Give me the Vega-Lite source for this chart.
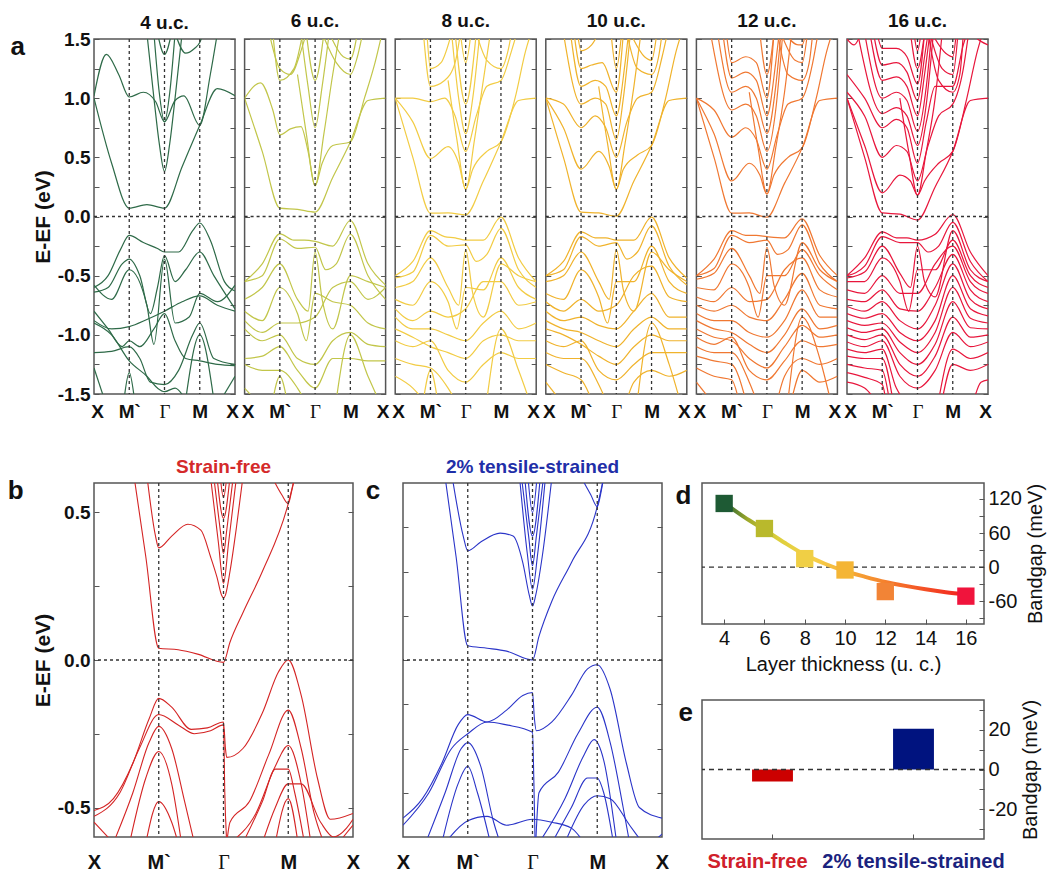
{
"$schema":"https://vega.github.io/schema/vega-lite/v6.json",
"padding":{"left":7,"top":11,"right":2,"bottom":0},
"background":"white",
"config":{"view":{"stroke":"#555","strokeWidth":1.5},"font":"Liberation Sans","axis":{"grid":false,"domain":false,"labelOverlap":false,"tickColor":"#555","labelColor":"#111","titleColor":"#111","labelFont":"Liberation Sans","titleFont":"Liberation Sans"},"title":{"font":"Liberation Sans","fontWeight":"bold","color":"#111"}},
"datasets":{
"a4":[
{"b":1,"k":0,"e":1.0},{"b":1,"k":0.5,"e":0.45},{"b":1,"k":1,"e":0.07},{"b":1,"k":1.5,"e":0.1},{"b":1,"k":2,"e":0.07},{"b":1,"k":2.5,"e":0.42},{"b":1,"k":3,"e":0.77},{"b":1,"k":3.5,"e":1.08},{"b":1,"k":4,"e":1.02},
{"b":2,"k":0,"e":1.02},{"b":2,"k":0.35,"e":1.37},{"b":2,"k":0.7,"e":1.2},{"b":2,"k":1,"e":1.01},{"b":2,"k":1.4,"e":1.05},{"b":2,"k":1.75,"e":0.97},{"b":2,"k":2,"e":0.8},{"b":2,"k":2.3,"e":0.98},{"b":2,"k":2.55,"e":1.02},{"b":2,"k":3,"e":0.77},{"b":2,"k":3.3,"e":1.2},{"b":2,"k":3.5,"e":1.55},
{"b":3,"k":1.5,"e":1.55},{"b":3,"k":1.7,"e":1.0},{"b":3,"k":1.85,"e":0.62},{"b":3,"k":2,"e":0.38},{"b":3,"k":2.15,"e":0.62},{"b":3,"k":2.3,"e":1.0},{"b":3,"k":2.5,"e":1.55},
{"b":4,"k":1.7,"e":1.55},{"b":4,"k":1.85,"e":1.05},{"b":4,"k":2,"e":0.8},{"b":4,"k":2.15,"e":1.05},{"b":4,"k":2.3,"e":1.55},
{"b":5,"k":1.8,"e":1.55},{"b":5,"k":2,"e":1.37},{"b":5,"k":2.2,"e":1.55},
{"b":6,"k":2.3,"e":1.55},{"b":6,"k":2.6,"e":1.38},{"b":6,"k":2.85,"e":1.42},{"b":6,"k":3,"e":1.47},{"b":6,"k":3.1,"e":1.55},
{"b":8,"k":0,"e":-0.6},{"b":8,"k":0.4,"e":-0.5},{"b":8,"k":0.75,"e":-0.28},{"b":8,"k":1,"e":-0.16},{"b":8,"k":1.4,"e":-0.22},{"b":8,"k":1.8,"e":-0.27},{"b":8,"k":2,"e":-0.3},{"b":8,"k":2.4,"e":-0.3},{"b":8,"k":2.8,"e":-0.12},{"b":8,"k":3,"e":-0.055},{"b":8,"k":3.3,"e":-0.2},{"b":8,"k":3.7,"e":-0.55},{"b":8,"k":4,"e":-0.63},
{"b":9,"k":0,"e":-0.64},{"b":9,"k":0.4,"e":-0.6},{"b":9,"k":0.8,"e":-0.4},{"b":9,"k":1,"e":-0.36},{"b":9,"k":1.3,"e":-0.5},{"b":9,"k":1.6,"e":-0.82},{"b":9,"k":1.8,"e":-0.6},{"b":9,"k":2,"e":-0.33},{"b":9,"k":2.3,"e":-0.55},{"b":9,"k":2.6,"e":-0.45},{"b":9,"k":3,"e":-0.3},{"b":9,"k":3.4,"e":-0.5},{"b":9,"k":4,"e":-0.78},
{"b":10,"k":0,"e":-0.58},{"b":10,"k":0.5,"e":-0.7},{"b":10,"k":1,"e":-0.45},{"b":10,"k":1.5,"e":-0.75},{"b":10,"k":1.7,"e":-1.08},{"b":10,"k":2,"e":-0.36},{"b":10,"k":2.3,"e":-0.9},{"b":10,"k":2.7,"e":-0.85},{"b":10,"k":3,"e":-0.65},{"b":10,"k":3.5,"e":-0.72},{"b":10,"k":4,"e":-0.58},
{"b":11,"k":0,"e":-0.88},{"b":11,"k":0.5,"e":-0.95},{"b":11,"k":1,"e":-0.93},{"b":11,"k":1.5,"e":-0.87},{"b":11,"k":2,"e":-0.8},{"b":11,"k":2.5,"e":-0.72},{"b":11,"k":3,"e":-0.67},{"b":11,"k":3.5,"e":-0.75},{"b":11,"k":4,"e":-0.8},
{"b":12,"k":0,"e":-0.8},{"b":12,"k":0.4,"e":-0.95},{"b":12,"k":0.8,"e":-1.1},{"b":12,"k":1,"e":-1.05},{"b":12,"k":1.3,"e":-1.1},{"b":12,"k":1.7,"e":-0.95},{"b":12,"k":2,"e":-0.82},{"b":12,"k":2.3,"e":-1.05},{"b":12,"k":2.6,"e":-1.2},{"b":12,"k":3,"e":-1.22},{"b":12,"k":3.5,"e":-1.25},{"b":12,"k":4,"e":-1.26},
{"b":13,"k":0,"e":-1.15},{"b":13,"k":0.5,"e":-1.14},{"b":13,"k":1,"e":-1.1},{"b":13,"k":1.3,"e":-1.2},{"b":13,"k":1.6,"e":-1.4},{"b":13,"k":2,"e":-1.42},{"b":13,"k":2.4,"e":-1.3},{"b":13,"k":2.8,"e":-1.0},{"b":13,"k":3,"e":-0.9},{"b":13,"k":3.4,"e":-1.2},{"b":13,"k":4,"e":-1.25},
{"b":14,"k":0,"e":-1.28},{"b":14,"k":0.3,"e":-1.55},
{"b":15,"k":0.85,"e":-1.55},{"b":15,"k":1,"e":-1.32},{"b":15,"k":1.15,"e":-1.55},
{"b":16,"k":0,"e":-0.9},{"b":16,"k":0.5,"e":-1.0},{"b":16,"k":1,"e":-1.22},{"b":16,"k":1.5,"e":-1.35},{"b":16,"k":1.8,"e":-1.45},{"b":16,"k":2,"e":-1.48},{"b":16,"k":2.3,"e":-1.45},{"b":16,"k":2.6,"e":-1.55},
{"b":17,"k":2.6,"e":-1.55},{"b":17,"k":3,"e":-1.0},{"b":17,"k":3.4,"e":-1.55},
{"b":18,"k":3.6,"e":-1.55},{"b":18,"k":4,"e":-1.35}
],
"a6":[
{"b":1,"k":0,"e":1.0},{"b":1,"k":0.5,"e":0.55},{"b":1,"k":1,"e":0.07},{"b":1,"k":1.5,"e":0.06},{"b":1,"k":2,"e":0.037},{"b":1,"k":2.5,"e":0.33},{"b":1,"k":3,"e":0.63},{"b":1,"k":3.5,"e":0.98},{"b":1,"k":4,"e":1.0},
{"b":2,"k":0,"e":1.0},{"b":2,"k":0.45,"e":1.13},{"b":2,"k":0.8,"e":0.9},{"b":2,"k":1,"e":0.69},{"b":2,"k":1.3,"e":0.74},{"b":2,"k":1.6,"e":0.76},{"b":2,"k":1.8,"e":0.55},{"b":2,"k":2,"e":0.26},{"b":2,"k":2.2,"e":0.45},{"b":2,"k":2.5,"e":0.6},{"b":2,"k":3,"e":0.63},{"b":2,"k":3.4,"e":1.0},{"b":2,"k":3.7,"e":1.3},{"b":2,"k":3.9,"e":1.55},
{"b":3,"k":1.5,"e":1.2},{"b":3,"k":1.75,"e":0.7},{"b":3,"k":2,"e":0.26},{"b":3,"k":2.25,"e":0.7},{"b":3,"k":2.5,"e":1.2},{"b":3,"k":2.7,"e":1.55},
{"b":4,"k":1.6,"e":1.55},{"b":4,"k":1.8,"e":1.1},{"b":4,"k":2,"e":0.75},{"b":4,"k":2.2,"e":1.1},{"b":4,"k":2.4,"e":1.55},
{"b":5,"k":1.75,"e":1.55},{"b":5,"k":2,"e":1.15},{"b":5,"k":2.25,"e":1.55},
{"b":6,"k":0.7,"e":1.55},{"b":6,"k":1,"e":1.25},{"b":6,"k":1.3,"e":1.2},{"b":6,"k":1.6,"e":1.4},{"b":6,"k":1.75,"e":1.55},
{"b":7,"k":0.8,"e":1.55},{"b":7,"k":1,"e":1.15},{"b":7,"k":1.4,"e":1.25},{"b":7,"k":1.65,"e":1.55},
{"b":8,"k":2.2,"e":1.55},{"b":8,"k":2.6,"e":1.3},{"b":8,"k":3,"e":1.2},{"b":8,"k":3.2,"e":1.35},{"b":8,"k":3.35,"e":1.55},
{"b":9,"k":2.4,"e":1.55},{"b":9,"k":2.8,"e":1.35},{"b":9,"k":3,"e":1.33},{"b":9,"k":3.2,"e":1.55},
{"b":10,"k":0,"e":-0.55},{"b":10,"k":0.5,"e":-0.4},{"b":10,"k":1,"e":-0.146},{"b":10,"k":1.4,"e":-0.2},{"b":10,"k":1.7,"e":-0.2},{"b":10,"k":2,"e":-0.21},{"b":10,"k":2.5,"e":-0.25},{"b":10,"k":3,"e":-0.034},{"b":10,"k":3.5,"e":-0.4},{"b":10,"k":4,"e":-0.58},
{"b":11,"k":0,"e":-0.55},{"b":11,"k":0.5,"e":-0.5},{"b":11,"k":1,"e":-0.19},{"b":11,"k":1.5,"e":-0.27},{"b":11,"k":2,"e":-0.26},{"b":11,"k":2.3,"e":-0.45},{"b":11,"k":2.6,"e":-0.4},{"b":11,"k":3,"e":-0.15},{"b":11,"k":3.5,"e":-0.5},{"b":11,"k":4,"e":-0.7},
{"b":12,"k":0,"e":-0.7},{"b":12,"k":0.5,"e":-0.6},{"b":12,"k":1,"e":-0.4},{"b":12,"k":1.5,"e":-0.7},{"b":12,"k":1.8,"e":-0.8},{"b":12,"k":2,"e":-0.3},{"b":12,"k":2.2,"e":-0.7},{"b":12,"k":2.5,"e":-0.95},{"b":12,"k":3,"e":-0.5},{"b":12,"k":3.5,"e":-0.55},{"b":12,"k":4,"e":-0.6},
{"b":13,"k":0,"e":-0.8},{"b":13,"k":0.5,"e":-0.88},{"b":13,"k":1,"e":-0.6},{"b":13,"k":1.5,"e":-0.82},{"b":13,"k":1.75,"e":-1.05},{"b":13,"k":2,"e":-0.65},{"b":13,"k":2.5,"e":-0.72},{"b":13,"k":3,"e":-0.75},{"b":13,"k":3.5,"e":-0.9},{"b":13,"k":4,"e":-0.95},
{"b":14,"k":0,"e":-0.88},{"b":14,"k":0.5,"e":-0.98},{"b":14,"k":1,"e":-0.9},{"b":14,"k":1.5,"e":-0.9},{"b":14,"k":2,"e":-0.85},{"b":14,"k":2.5,"e":-0.6},{"b":14,"k":3,"e":-0.55},{"b":14,"k":3.5,"e":-0.7},{"b":14,"k":4,"e":-0.6},
{"b":15,"k":0,"e":-0.95},{"b":15,"k":0.5,"e":-1.05},{"b":15,"k":1,"e":-1.0},{"b":15,"k":1.5,"e":-1.2},{"b":15,"k":2,"e":-1.25},{"b":15,"k":2.5,"e":-1.05},{"b":15,"k":3,"e":-0.98},{"b":15,"k":3.5,"e":-1.08},{"b":15,"k":4,"e":-1.1},
{"b":16,"k":0,"e":-1.2},{"b":16,"k":0.5,"e":-1.18},{"b":16,"k":1,"e":-1.1},{"b":16,"k":1.5,"e":-1.3},{"b":16,"k":2,"e":-1.45},{"b":16,"k":2.5,"e":-1.2},{"b":16,"k":3,"e":-1.2},{"b":16,"k":3.5,"e":-1.22},{"b":16,"k":4,"e":-1.22},
{"b":17,"k":0,"e":-1.25},{"b":17,"k":0.5,"e":-1.3},{"b":17,"k":1,"e":-1.3},{"b":17,"k":1.5,"e":-1.45},{"b":17,"k":1.7,"e":-1.55},
{"b":18,"k":2.6,"e":-1.55},{"b":18,"k":3,"e":-1.0},{"b":18,"k":3.5,"e":-1.35},{"b":18,"k":3.8,"e":-1.55},
{"b":19,"k":0,"e":-1.45},{"b":19,"k":0.3,"e":-1.55},
{"b":20,"k":0.8,"e":-1.55},{"b":20,"k":1,"e":-1.35},{"b":20,"k":1.2,"e":-1.55}
],
"a8":[
{"b":1,"k":0,"e":1.0},{"b":1,"k":0.5,"e":0.5},{"b":1,"k":1,"e":0.028},{"b":1,"k":1.5,"e":0.03},{"b":1,"k":2,"e":0.014},{"b":1,"k":2.5,"e":0.3},{"b":1,"k":3,"e":0.63},{"b":1,"k":3.5,"e":0.98},{"b":1,"k":4,"e":1.0},
{"b":2,"k":0,"e":1.0},{"b":2,"k":0.5,"e":0.8},{"b":2,"k":1,"e":0.49},{"b":2,"k":1.5,"e":0.59},{"b":2,"k":1.8,"e":0.45},{"b":2,"k":2,"e":0.23},{"b":2,"k":2.2,"e":0.4},{"b":2,"k":2.6,"e":0.55},{"b":2,"k":3,"e":0.63},{"b":2,"k":3.4,"e":1.0},{"b":2,"k":3.7,"e":1.4},{"b":2,"k":3.85,"e":1.55},
{"b":3,"k":1.5,"e":1.15},{"b":3,"k":1.75,"e":0.65},{"b":3,"k":2,"e":0.23},{"b":3,"k":2.25,"e":0.65},{"b":3,"k":2.5,"e":1.15},{"b":3,"k":2.7,"e":1.55},
{"b":4,"k":0,"e":1.0},{"b":4,"k":0.5,"e":1.0},{"b":4,"k":1,"e":0.97},{"b":4,"k":1.4,"e":1.0},{"b":4,"k":1.7,"e":0.85},{"b":4,"k":2,"e":0.55},{"b":4,"k":2.3,"e":0.85},{"b":4,"k":2.6,"e":1.1},{"b":4,"k":3,"e":1.15},{"b":4,"k":3.3,"e":1.4},{"b":4,"k":3.45,"e":1.55},
{"b":5,"k":1.6,"e":1.55},{"b":5,"k":1.8,"e":1.0},{"b":5,"k":2,"e":0.7},{"b":5,"k":2.2,"e":1.0},{"b":5,"k":2.4,"e":1.55},
{"b":6,"k":1.7,"e":1.55},{"b":6,"k":2,"e":0.95},{"b":6,"k":2.3,"e":1.55},
{"b":7,"k":0.8,"e":1.55},{"b":7,"k":1,"e":1.1},{"b":7,"k":1.4,"e":1.15},{"b":7,"k":1.7,"e":1.3},{"b":7,"k":1.85,"e":1.55},
{"b":8,"k":0.9,"e":1.55},{"b":8,"k":1,"e":1.25},{"b":8,"k":1.3,"e":1.3},{"b":8,"k":1.6,"e":1.55},
{"b":9,"k":2.3,"e":1.55},{"b":9,"k":2.6,"e":1.32},{"b":9,"k":3,"e":1.25},{"b":9,"k":3.2,"e":1.4},{"b":9,"k":3.3,"e":1.55},
{"b":10,"k":1.85,"e":1.55},{"b":10,"k":2,"e":1.3},{"b":10,"k":2.15,"e":1.55},
{"b":11,"k":0,"e":-0.5},{"b":11,"k":0.5,"e":-0.38},{"b":11,"k":1,"e":-0.12},{"b":11,"k":1.4,"e":-0.17},{"b":11,"k":1.7,"e":-0.18},{"b":11,"k":2,"e":-0.2},{"b":11,"k":2.5,"e":-0.2},{"b":11,"k":3,"e":-0.006},{"b":11,"k":3.5,"e":-0.35},{"b":11,"k":4,"e":-0.55},
{"b":12,"k":0,"e":-0.52},{"b":12,"k":0.5,"e":-0.47},{"b":12,"k":1,"e":-0.16},{"b":12,"k":1.5,"e":-0.25},{"b":12,"k":2,"e":-0.24},{"b":12,"k":2.3,"e":-0.38},{"b":12,"k":2.6,"e":-0.32},{"b":12,"k":3,"e":-0.1},{"b":12,"k":3.5,"e":-0.45},{"b":12,"k":4,"e":-0.6},
{"b":13,"k":0,"e":-0.6},{"b":13,"k":0.5,"e":-0.55},{"b":13,"k":1,"e":-0.35},{"b":13,"k":1.5,"e":-0.6},{"b":13,"k":1.8,"e":-0.75},{"b":13,"k":2,"e":-0.28},{"b":13,"k":2.2,"e":-0.65},{"b":13,"k":2.5,"e":-0.85},{"b":13,"k":3,"e":-0.4},{"b":13,"k":3.5,"e":-0.5},{"b":13,"k":4,"e":-0.55},
{"b":14,"k":0,"e":-0.7},{"b":14,"k":0.5,"e":-0.75},{"b":14,"k":1,"e":-0.55},{"b":14,"k":1.5,"e":-0.72},{"b":14,"k":1.75,"e":-0.95},{"b":14,"k":2,"e":-0.6},{"b":14,"k":2.5,"e":-0.62},{"b":14,"k":3,"e":-0.35},{"b":14,"k":3.5,"e":-0.6},{"b":14,"k":4,"e":-0.7},
{"b":15,"k":0,"e":-0.78},{"b":15,"k":0.5,"e":-0.88},{"b":15,"k":1,"e":-0.8},{"b":15,"k":1.5,"e":-0.85},{"b":15,"k":2,"e":-0.78},{"b":15,"k":2.5,"e":-0.55},{"b":15,"k":3,"e":-0.55},{"b":15,"k":3.5,"e":-0.75},{"b":15,"k":4,"e":-0.72},
{"b":16,"k":0,"e":-0.85},{"b":16,"k":0.5,"e":-0.95},{"b":16,"k":1,"e":-0.95},{"b":16,"k":1.5,"e":-1.0},{"b":16,"k":2,"e":-1.05},{"b":16,"k":2.5,"e":-0.9},{"b":16,"k":3,"e":-0.8},{"b":16,"k":3.5,"e":-0.95},{"b":16,"k":4,"e":-0.9},
{"b":17,"k":0,"e":-0.95},{"b":17,"k":0.5,"e":-1.02},{"b":17,"k":1,"e":-1.1},{"b":17,"k":1.5,"e":-1.15},{"b":17,"k":2,"e":-1.2},{"b":17,"k":2.5,"e":-1.05},{"b":17,"k":3,"e":-1.0},{"b":17,"k":3.5,"e":-1.05},{"b":17,"k":4,"e":-1.05},
{"b":18,"k":0,"e":-1.05},{"b":18,"k":0.5,"e":-1.1},{"b":18,"k":1,"e":-1.05},{"b":18,"k":1.5,"e":-1.3},{"b":18,"k":2,"e":-1.4},{"b":18,"k":2.5,"e":-1.25},{"b":18,"k":3,"e":-1.15},{"b":18,"k":3.5,"e":-1.2},{"b":18,"k":4,"e":-1.2},
{"b":19,"k":0,"e":-1.2},{"b":19,"k":0.5,"e":-1.25},{"b":19,"k":1,"e":-1.28},{"b":19,"k":1.5,"e":-1.45},{"b":19,"k":1.7,"e":-1.55},
{"b":20,"k":0,"e":-1.35},{"b":20,"k":0.5,"e":-1.45},{"b":20,"k":0.8,"e":-1.55},
{"b":21,"k":2.6,"e":-1.55},{"b":21,"k":3,"e":-0.95},{"b":21,"k":3.5,"e":-1.3},{"b":21,"k":3.8,"e":-1.55},
{"b":22,"k":0.8,"e":-1.55},{"b":22,"k":1,"e":-1.3},{"b":22,"k":1.2,"e":-1.55}
],
"a10":[
{"b":1,"k":0,"e":1.0},{"b":1,"k":0.5,"e":0.5},{"b":1,"k":1,"e":0.037},{"b":1,"k":1.5,"e":0.03},{"b":1,"k":2,"e":0.003},{"b":1,"k":2.5,"e":0.3},{"b":1,"k":3,"e":0.6},{"b":1,"k":3.5,"e":0.98},{"b":1,"k":4,"e":1.0},
{"b":2,"k":0,"e":1.0},{"b":2,"k":0.5,"e":0.75},{"b":2,"k":1,"e":0.4},{"b":2,"k":1.5,"e":0.55},{"b":2,"k":1.8,"e":0.42},{"b":2,"k":2,"e":0.23},{"b":2,"k":2.2,"e":0.4},{"b":2,"k":2.6,"e":0.52},{"b":2,"k":3,"e":0.6},{"b":2,"k":3.4,"e":1.0},{"b":2,"k":3.7,"e":1.4},{"b":2,"k":3.85,"e":1.55},
{"b":3,"k":1.5,"e":1.1},{"b":3,"k":1.75,"e":0.62},{"b":3,"k":2,"e":0.23},{"b":3,"k":2.25,"e":0.62},{"b":3,"k":2.5,"e":1.1},{"b":3,"k":2.7,"e":1.55},
{"b":4,"k":0,"e":1.0},{"b":4,"k":0.5,"e":0.95},{"b":4,"k":1,"e":0.75},{"b":4,"k":1.4,"e":0.85},{"b":4,"k":1.7,"e":0.75},{"b":4,"k":2,"e":0.5},{"b":4,"k":2.3,"e":0.8},{"b":4,"k":2.6,"e":1.0},{"b":4,"k":3,"e":1.05},{"b":4,"k":3.3,"e":1.35},{"b":4,"k":3.45,"e":1.55},
{"b":5,"k":0.5,"e":1.55},{"b":5,"k":1,"e":0.95},{"b":5,"k":1.4,"e":1.0},{"b":5,"k":1.7,"e":0.95},{"b":5,"k":2,"e":0.65},{"b":5,"k":2.2,"e":1.0},{"b":5,"k":2.4,"e":1.55},
{"b":6,"k":0.7,"e":1.55},{"b":6,"k":1,"e":1.1},{"b":6,"k":1.4,"e":1.15},{"b":6,"k":1.7,"e":1.1},{"b":6,"k":2,"e":0.85},{"b":6,"k":2.25,"e":1.3},{"b":6,"k":2.35,"e":1.55},
{"b":7,"k":0.8,"e":1.55},{"b":7,"k":1,"e":1.25},{"b":7,"k":1.3,"e":1.28},{"b":7,"k":1.6,"e":1.3},{"b":7,"k":2,"e":1.05},{"b":7,"k":2.2,"e":1.55},
{"b":8,"k":1.85,"e":1.55},{"b":8,"k":2,"e":1.25},{"b":8,"k":2.15,"e":1.55},
{"b":9,"k":2.3,"e":1.55},{"b":9,"k":2.6,"e":1.25},{"b":9,"k":3,"e":1.2},{"b":9,"k":3.2,"e":1.35},{"b":9,"k":3.3,"e":1.55},
{"b":10,"k":2.4,"e":1.55},{"b":10,"k":2.8,"e":1.35},{"b":10,"k":3,"e":1.32},{"b":10,"k":3.15,"e":1.55},
{"b":11,"k":0.9,"e":1.55},{"b":11,"k":1,"e":1.4},{"b":11,"k":1.3,"e":1.45},{"b":11,"k":1.5,"e":1.55},
{"b":12,"k":0,"e":-0.5},{"b":12,"k":0.5,"e":-0.38},{"b":12,"k":1,"e":-0.13},{"b":12,"k":1.4,"e":-0.18},{"b":12,"k":1.7,"e":-0.18},{"b":12,"k":2,"e":-0.2},{"b":12,"k":2.5,"e":-0.2},{"b":12,"k":3,"e":-0.006},{"b":12,"k":3.5,"e":-0.35},{"b":12,"k":4,"e":-0.52},
{"b":13,"k":0,"e":-0.5},{"b":13,"k":0.5,"e":-0.45},{"b":13,"k":1,"e":-0.17},{"b":13,"k":1.5,"e":-0.25},{"b":13,"k":2,"e":-0.22},{"b":13,"k":2.3,"e":-0.36},{"b":13,"k":2.6,"e":-0.3},{"b":13,"k":3,"e":-0.08},{"b":13,"k":3.5,"e":-0.42},{"b":13,"k":4,"e":-0.58},
{"b":14,"k":0,"e":-0.55},{"b":14,"k":0.5,"e":-0.5},{"b":14,"k":1,"e":-0.3},{"b":14,"k":1.5,"e":-0.55},{"b":14,"k":1.8,"e":-0.7},{"b":14,"k":2,"e":-0.28},{"b":14,"k":2.2,"e":-0.62},{"b":14,"k":2.5,"e":-0.8},{"b":14,"k":3,"e":-0.3},{"b":14,"k":3.5,"e":-0.45},{"b":14,"k":4,"e":-0.55},
{"b":15,"k":0,"e":-0.65},{"b":15,"k":0.5,"e":-0.7},{"b":15,"k":1,"e":-0.45},{"b":15,"k":1.5,"e":-0.68},{"b":15,"k":1.75,"e":-0.9},{"b":15,"k":2,"e":-0.55},{"b":15,"k":2.5,"e":-0.55},{"b":15,"k":3,"e":-0.25},{"b":15,"k":3.5,"e":-0.55},{"b":15,"k":4,"e":-0.65},
{"b":16,"k":0,"e":-0.72},{"b":16,"k":0.5,"e":-0.8},{"b":16,"k":1,"e":-0.7},{"b":16,"k":1.5,"e":-0.8},{"b":16,"k":2,"e":-0.75},{"b":16,"k":2.5,"e":-0.5},{"b":16,"k":3,"e":-0.42},{"b":16,"k":3.5,"e":-0.68},{"b":16,"k":4,"e":-0.72},
{"b":17,"k":0,"e":-0.8},{"b":17,"k":0.5,"e":-0.88},{"b":17,"k":1,"e":-0.85},{"b":17,"k":1.5,"e":-0.92},{"b":17,"k":2,"e":-0.95},{"b":17,"k":2.5,"e":-0.8},{"b":17,"k":3,"e":-0.65},{"b":17,"k":3.5,"e":-0.85},{"b":17,"k":4,"e":-0.85},
{"b":18,"k":0,"e":-0.88},{"b":18,"k":0.5,"e":-0.95},{"b":18,"k":1,"e":-0.98},{"b":18,"k":1.5,"e":-1.05},{"b":18,"k":2,"e":-1.1},{"b":18,"k":2.5,"e":-0.95},{"b":18,"k":3,"e":-0.85},{"b":18,"k":3.5,"e":-0.95},{"b":18,"k":4,"e":-0.95},
{"b":19,"k":0,"e":-0.95},{"b":19,"k":0.5,"e":-1.0},{"b":19,"k":1,"e":-1.08},{"b":19,"k":1.5,"e":-1.18},{"b":19,"k":2,"e":-1.25},{"b":19,"k":2.5,"e":-1.1},{"b":19,"k":3,"e":-1.0},{"b":19,"k":3.5,"e":-1.05},{"b":19,"k":4,"e":-1.05},
{"b":20,"k":0,"e":-1.05},{"b":20,"k":0.5,"e":-1.1},{"b":20,"k":1,"e":-1.05},{"b":20,"k":1.5,"e":-1.3},{"b":20,"k":2,"e":-1.38},{"b":20,"k":2.5,"e":-1.25},{"b":20,"k":3,"e":-1.15},{"b":20,"k":3.5,"e":-1.15},{"b":20,"k":4,"e":-1.15},
{"b":21,"k":0,"e":-1.15},{"b":21,"k":0.5,"e":-1.2},{"b":21,"k":1,"e":-1.2},{"b":21,"k":1.5,"e":-1.42},{"b":21,"k":1.7,"e":-1.55},
{"b":22,"k":0,"e":-1.25},{"b":22,"k":0.5,"e":-1.32},{"b":22,"k":1,"e":-1.38},{"b":22,"k":1.3,"e":-1.55},
{"b":23,"k":2.6,"e":-1.55},{"b":23,"k":3,"e":-0.9},{"b":23,"k":3.5,"e":-1.25},{"b":23,"k":3.8,"e":-1.55},
{"b":24,"k":0,"e":-1.4},{"b":24,"k":0.4,"e":-1.55},
{"b":25,"k":2.3,"e":-1.55},{"b":25,"k":2.5,"e":-1.4},{"b":25,"k":3,"e":-1.3},{"b":25,"k":3.5,"e":-1.35},{"b":25,"k":4,"e":-1.3}
],
"a12":[
{"b":1,"k":0,"e":1.0},{"b":1,"k":0.5,"e":0.5},{"b":1,"k":1,"e":0.028},{"b":1,"k":1.5,"e":0.03},{"b":1,"k":2,"e":-0.006},{"b":1,"k":2.5,"e":0.28},{"b":1,"k":3,"e":0.58},{"b":1,"k":3.5,"e":0.98},{"b":1,"k":4,"e":1.0},
{"b":2,"k":0,"e":1.0},{"b":2,"k":0.5,"e":0.7},{"b":2,"k":1,"e":0.3},{"b":2,"k":1.5,"e":0.45},{"b":2,"k":1.8,"e":0.35},{"b":2,"k":2,"e":0.19},{"b":2,"k":2.2,"e":0.35},{"b":2,"k":2.6,"e":0.5},{"b":2,"k":3,"e":0.58},{"b":2,"k":3.4,"e":1.0},{"b":2,"k":3.7,"e":1.4},{"b":2,"k":3.85,"e":1.55},
{"b":3,"k":1.5,"e":1.05},{"b":3,"k":1.75,"e":0.58},{"b":3,"k":2,"e":0.19},{"b":3,"k":2.25,"e":0.58},{"b":3,"k":2.5,"e":1.05},{"b":3,"k":2.7,"e":1.55},
{"b":4,"k":0,"e":1.0},{"b":4,"k":0.5,"e":0.9},{"b":4,"k":1,"e":0.67},{"b":4,"k":1.4,"e":0.75},{"b":4,"k":1.7,"e":0.65},{"b":4,"k":2,"e":0.4},{"b":4,"k":2.3,"e":0.7},{"b":4,"k":2.6,"e":0.95},{"b":4,"k":3,"e":1.0},{"b":4,"k":3.3,"e":1.3},{"b":4,"k":3.45,"e":1.55},
{"b":5,"k":0.4,"e":1.55},{"b":5,"k":1,"e":0.9},{"b":5,"k":1.4,"e":0.95},{"b":5,"k":1.7,"e":0.85},{"b":5,"k":2,"e":0.55},{"b":5,"k":2.25,"e":0.9},{"b":5,"k":2.45,"e":1.55},
{"b":6,"k":0.6,"e":1.55},{"b":6,"k":1,"e":1.05},{"b":6,"k":1.4,"e":1.1},{"b":6,"k":1.7,"e":1.0},{"b":6,"k":2,"e":0.7},{"b":6,"k":2.25,"e":1.1},{"b":6,"k":2.4,"e":1.55},
{"b":7,"k":0.75,"e":1.55},{"b":7,"k":1,"e":1.17},{"b":7,"k":1.4,"e":1.22},{"b":7,"k":1.7,"e":1.15},{"b":7,"k":2,"e":0.85},{"b":7,"k":2.25,"e":1.3},{"b":7,"k":2.35,"e":1.55},
{"b":8,"k":0.85,"e":1.55},{"b":8,"k":1,"e":1.3},{"b":8,"k":1.4,"e":1.35},{"b":8,"k":1.7,"e":1.3},{"b":8,"k":2,"e":1.0},{"b":8,"k":2.2,"e":1.55},
{"b":9,"k":1.8,"e":1.55},{"b":9,"k":2,"e":1.2},{"b":9,"k":2.2,"e":1.55},
{"b":10,"k":2.3,"e":1.55},{"b":10,"k":2.6,"e":1.2},{"b":10,"k":3,"e":1.15},{"b":10,"k":3.2,"e":1.3},{"b":10,"k":3.3,"e":1.55},
{"b":11,"k":2.4,"e":1.55},{"b":11,"k":2.8,"e":1.32},{"b":11,"k":3,"e":1.3},{"b":11,"k":3.15,"e":1.55},
{"b":12,"k":2.5,"e":1.55},{"b":12,"k":2.9,"e":1.45},{"b":12,"k":3,"e":1.45},{"b":12,"k":3.1,"e":1.55},
{"b":13,"k":0,"e":-0.5},{"b":13,"k":0.5,"e":-0.36},{"b":13,"k":1,"e":-0.12},{"b":13,"k":1.4,"e":-0.16},{"b":13,"k":1.7,"e":-0.16},{"b":13,"k":2,"e":-0.17},{"b":13,"k":2.5,"e":-0.18},{"b":13,"k":3,"e":-0.02},{"b":13,"k":3.5,"e":-0.33},{"b":13,"k":4,"e":-0.5},
{"b":14,"k":0,"e":-0.5},{"b":14,"k":0.5,"e":-0.44},{"b":14,"k":1,"e":-0.16},{"b":14,"k":1.5,"e":-0.22},{"b":14,"k":2,"e":-0.2},{"b":14,"k":2.3,"e":-0.32},{"b":14,"k":2.6,"e":-0.28},{"b":14,"k":3,"e":-0.07},{"b":14,"k":3.5,"e":-0.4},{"b":14,"k":4,"e":-0.55},
{"b":15,"k":0,"e":-0.53},{"b":15,"k":0.5,"e":-0.48},{"b":15,"k":1,"e":-0.27},{"b":15,"k":1.5,"e":-0.5},{"b":15,"k":1.8,"e":-0.65},{"b":15,"k":2,"e":-0.26},{"b":15,"k":2.2,"e":-0.58},{"b":15,"k":2.5,"e":-0.75},{"b":15,"k":3,"e":-0.22},{"b":15,"k":3.5,"e":-0.45},{"b":15,"k":4,"e":-0.55},
{"b":16,"k":0,"e":-0.6},{"b":16,"k":0.5,"e":-0.62},{"b":16,"k":1,"e":-0.4},{"b":16,"k":1.5,"e":-0.6},{"b":16,"k":1.75,"e":-0.85},{"b":16,"k":2,"e":-0.5},{"b":16,"k":2.5,"e":-0.5},{"b":16,"k":3,"e":-0.28},{"b":16,"k":3.5,"e":-0.5},{"b":16,"k":4,"e":-0.62},
{"b":17,"k":0,"e":-0.68},{"b":17,"k":0.5,"e":-0.72},{"b":17,"k":1,"e":-0.6},{"b":17,"k":1.5,"e":-0.72},{"b":17,"k":2,"e":-0.7},{"b":17,"k":2.5,"e":-0.45},{"b":17,"k":3,"e":-0.35},{"b":17,"k":3.5,"e":-0.62},{"b":17,"k":4,"e":-0.68},
{"b":18,"k":0,"e":-0.75},{"b":18,"k":0.5,"e":-0.8},{"b":18,"k":1,"e":-0.75},{"b":18,"k":1.5,"e":-0.85},{"b":18,"k":2,"e":-0.88},{"b":18,"k":2.5,"e":-0.7},{"b":18,"k":3,"e":-0.48},{"b":18,"k":3.5,"e":-0.75},{"b":18,"k":4,"e":-0.78},
{"b":19,"k":0,"e":-0.82},{"b":19,"k":0.5,"e":-0.88},{"b":19,"k":1,"e":-0.88},{"b":19,"k":1.5,"e":-0.98},{"b":19,"k":2,"e":-1.02},{"b":19,"k":2.5,"e":-0.88},{"b":19,"k":3,"e":-0.62},{"b":19,"k":3.5,"e":-0.85},{"b":19,"k":4,"e":-0.85},
{"b":20,"k":0,"e":-0.88},{"b":20,"k":0.5,"e":-0.95},{"b":20,"k":1,"e":-0.98},{"b":20,"k":1.5,"e":-1.08},{"b":20,"k":2,"e":-1.15},{"b":20,"k":2.5,"e":-1.0},{"b":20,"k":3,"e":-0.78},{"b":20,"k":3.5,"e":-0.95},{"b":20,"k":4,"e":-0.92},
{"b":21,"k":0,"e":-0.95},{"b":21,"k":0.5,"e":-1.02},{"b":21,"k":1,"e":-1.05},{"b":21,"k":1.5,"e":-1.2},{"b":21,"k":2,"e":-1.28},{"b":21,"k":2.5,"e":-1.1},{"b":21,"k":3,"e":-0.92},{"b":21,"k":3.5,"e":-1.02},{"b":21,"k":4,"e":-1.0},
{"b":22,"k":0,"e":-1.02},{"b":22,"k":0.5,"e":-1.08},{"b":22,"k":1,"e":-1.02},{"b":22,"k":1.5,"e":-1.3},{"b":22,"k":2,"e":-1.38},{"b":22,"k":2.5,"e":-1.22},{"b":22,"k":3,"e":-1.05},{"b":22,"k":3.5,"e":-1.1},{"b":22,"k":4,"e":-1.08},
{"b":23,"k":0,"e":-1.1},{"b":23,"k":0.5,"e":-1.15},{"b":23,"k":1,"e":-1.15},{"b":23,"k":1.5,"e":-1.4},{"b":23,"k":1.7,"e":-1.55},
{"b":24,"k":0,"e":-1.18},{"b":24,"k":0.5,"e":-1.22},{"b":24,"k":1,"e":-1.25},{"b":24,"k":1.4,"e":-1.55},
{"b":25,"k":0,"e":-1.28},{"b":25,"k":0.5,"e":-1.35},{"b":25,"k":1,"e":-1.38},{"b":25,"k":1.2,"e":-1.55},
{"b":26,"k":2.6,"e":-1.55},{"b":26,"k":3,"e":-0.85},{"b":26,"k":3.5,"e":-1.2},{"b":26,"k":3.8,"e":-1.55},
{"b":27,"k":2.3,"e":-1.55},{"b":27,"k":2.5,"e":-1.35},{"b":27,"k":3,"e":-1.2},{"b":27,"k":3.5,"e":-1.25},{"b":27,"k":4,"e":-1.2},
{"b":28,"k":0,"e":-1.4},{"b":28,"k":0.4,"e":-1.55},
{"b":29,"k":2.7,"e":-1.55},{"b":29,"k":3,"e":-1.3},{"b":29,"k":3.5,"e":-1.4},{"b":29,"k":4,"e":-1.35}
],
"a16":[
{"b":1,"k":0,"e":1.0},{"b":1,"k":0.5,"e":0.5},{"b":1,"k":1,"e":0.03},{"b":1,"k":1.5,"e":0.02},{"b":1,"k":2,"e":-0.03},{"b":1,"k":2.5,"e":0.25},{"b":1,"k":3,"e":0.55},{"b":1,"k":3.5,"e":0.98},{"b":1,"k":4,"e":1.0},
{"b":2,"k":0,"e":1.0},{"b":2,"k":0.5,"e":0.6},{"b":2,"k":1,"e":0.2},{"b":2,"k":1.5,"e":0.35},{"b":2,"k":1.8,"e":0.3},{"b":2,"k":2,"e":0.18},{"b":2,"k":2.2,"e":0.3},{"b":2,"k":2.6,"e":0.45},{"b":2,"k":3,"e":0.55},{"b":2,"k":3.4,"e":1.0},{"b":2,"k":3.7,"e":1.4},{"b":2,"k":3.85,"e":1.55},
{"b":3,"k":1.5,"e":1.0},{"b":3,"k":1.75,"e":0.55},{"b":3,"k":2,"e":0.18},{"b":3,"k":2.25,"e":0.55},{"b":3,"k":2.5,"e":1.0},{"b":3,"k":2.7,"e":1.55},
{"b":4,"k":0,"e":1.05},{"b":4,"k":0.5,"e":0.85},{"b":4,"k":1,"e":0.5},{"b":4,"k":1.4,"e":0.6},{"b":4,"k":1.7,"e":0.55},{"b":4,"k":2,"e":0.3},{"b":4,"k":2.3,"e":0.6},{"b":4,"k":2.6,"e":0.85},{"b":4,"k":3,"e":0.95},{"b":4,"k":3.3,"e":1.25},{"b":4,"k":3.45,"e":1.55},
{"b":5,"k":0,"e":1.2},{"b":5,"k":0.5,"e":1.0},{"b":5,"k":1,"e":0.75},{"b":5,"k":1.4,"e":0.82},{"b":5,"k":1.7,"e":0.75},{"b":5,"k":2,"e":0.45},{"b":5,"k":2.25,"e":0.8},{"b":5,"k":2.5,"e":1.1},{"b":5,"k":3,"e":1.1},{"b":5,"k":3.3,"e":1.45},{"b":5,"k":3.4,"e":1.55},
{"b":6,"k":0.3,"e":1.55},{"b":6,"k":1,"e":0.87},{"b":6,"k":1.4,"e":0.92},{"b":6,"k":1.7,"e":0.85},{"b":6,"k":2,"e":0.6},{"b":6,"k":2.25,"e":0.95},{"b":6,"k":2.45,"e":1.55},
{"b":7,"k":0.5,"e":1.55},{"b":7,"k":1,"e":1.0},{"b":7,"k":1.4,"e":1.05},{"b":7,"k":1.7,"e":0.98},{"b":7,"k":2,"e":0.72},{"b":7,"k":2.25,"e":1.1},{"b":7,"k":2.4,"e":1.55},
{"b":8,"k":0.65,"e":1.55},{"b":8,"k":1,"e":1.15},{"b":8,"k":1.4,"e":1.18},{"b":8,"k":1.7,"e":1.1},{"b":8,"k":2,"e":0.85},{"b":8,"k":2.2,"e":1.2},{"b":8,"k":2.35,"e":1.55},
{"b":9,"k":0.75,"e":1.55},{"b":9,"k":1,"e":1.28},{"b":9,"k":1.4,"e":1.3},{"b":9,"k":1.7,"e":1.22},{"b":9,"k":2,"e":0.98},{"b":9,"k":2.2,"e":1.35},{"b":9,"k":2.3,"e":1.55},
{"b":10,"k":0.85,"e":1.55},{"b":10,"k":1,"e":1.42},{"b":10,"k":1.4,"e":1.42},{"b":10,"k":1.7,"e":1.35},{"b":10,"k":2,"e":1.12},{"b":10,"k":2.2,"e":1.55},
{"b":11,"k":1.8,"e":1.55},{"b":11,"k":2,"e":1.25},{"b":11,"k":2.2,"e":1.55},
{"b":12,"k":1.9,"e":1.55},{"b":12,"k":2,"e":1.4},{"b":12,"k":2.1,"e":1.55},
{"b":13,"k":2.3,"e":1.55},{"b":13,"k":2.6,"e":1.15},{"b":13,"k":3,"e":1.05},{"b":13,"k":3.2,"e":1.2},{"b":13,"k":3.3,"e":1.55},
{"b":14,"k":2.35,"e":1.55},{"b":14,"k":2.7,"e":1.25},{"b":14,"k":3,"e":1.2},{"b":14,"k":3.15,"e":1.55},
{"b":15,"k":2.4,"e":1.55},{"b":15,"k":2.8,"e":1.38},{"b":15,"k":3,"e":1.35},{"b":15,"k":3.1,"e":1.55},
{"b":16,"k":3.5,"e":1.55},{"b":16,"k":3.8,"e":1.48},{"b":16,"k":4,"e":1.45},
{"b":17,"k":0,"e":1.5},{"b":17,"k":0.2,"e":1.45},{"b":17,"k":0.4,"e":1.55},
{"b":18,"k":0,"e":-0.5},{"b":18,"k":0.5,"e":-0.35},{"b":18,"k":1,"e":-0.13},{"b":18,"k":1.4,"e":-0.18},{"b":18,"k":1.7,"e":-0.18},{"b":18,"k":2,"e":-0.2},{"b":18,"k":2.5,"e":-0.15},{"b":18,"k":3,"e":0.017},{"b":18,"k":3.5,"e":-0.3},{"b":18,"k":4,"e":-0.5},
{"b":19,"k":0,"e":-0.5},{"b":19,"k":0.5,"e":-0.42},{"b":19,"k":1,"e":-0.17},{"b":19,"k":1.5,"e":-0.22},{"b":19,"k":2,"e":-0.22},{"b":19,"k":2.3,"e":-0.3},{"b":19,"k":2.6,"e":-0.25},{"b":19,"k":3,"e":-0.05},{"b":19,"k":3.5,"e":-0.38},{"b":19,"k":4,"e":-0.55},
{"b":20,"k":0,"e":-0.52},{"b":20,"k":0.5,"e":-0.47},{"b":20,"k":1,"e":-0.25},{"b":20,"k":1.5,"e":-0.48},{"b":20,"k":1.8,"e":-0.6},{"b":20,"k":2,"e":-0.25},{"b":20,"k":2.2,"e":-0.55},{"b":20,"k":2.5,"e":-0.68},{"b":20,"k":3,"e":-0.12},{"b":20,"k":3.5,"e":-0.45},{"b":20,"k":4,"e":-0.55},
{"b":21,"k":0,"e":-0.55},{"b":21,"k":0.5,"e":-0.55},{"b":21,"k":1,"e":-0.35},{"b":21,"k":1.5,"e":-0.55},{"b":21,"k":1.75,"e":-0.8},{"b":21,"k":2,"e":-0.45},{"b":21,"k":2.5,"e":-0.45},{"b":21,"k":3,"e":-0.2},{"b":21,"k":3.5,"e":-0.5},{"b":21,"k":4,"e":-0.6},
{"b":22,"k":0,"e":-0.62},{"b":22,"k":0.5,"e":-0.65},{"b":22,"k":1,"e":-0.5},{"b":22,"k":1.5,"e":-0.65},{"b":22,"k":2,"e":-0.65},{"b":22,"k":2.5,"e":-0.4},{"b":22,"k":3,"e":-0.25},{"b":22,"k":3.5,"e":-0.55},{"b":22,"k":4,"e":-0.65},
{"b":23,"k":0,"e":-0.7},{"b":23,"k":0.5,"e":-0.72},{"b":23,"k":1,"e":-0.62},{"b":23,"k":1.5,"e":-0.78},{"b":23,"k":2,"e":-0.8},{"b":23,"k":2.5,"e":-0.6},{"b":23,"k":3,"e":-0.32},{"b":23,"k":3.5,"e":-0.62},{"b":23,"k":4,"e":-0.72},
{"b":24,"k":0,"e":-0.76},{"b":24,"k":0.5,"e":-0.8},{"b":24,"k":1,"e":-0.72},{"b":24,"k":1.5,"e":-0.88},{"b":24,"k":2,"e":-0.95},{"b":24,"k":2.5,"e":-0.75},{"b":24,"k":3,"e":-0.4},{"b":24,"k":3.5,"e":-0.7},{"b":24,"k":4,"e":-0.78},
{"b":25,"k":0,"e":-0.82},{"b":25,"k":0.5,"e":-0.86},{"b":25,"k":1,"e":-0.82},{"b":25,"k":1.5,"e":-0.98},{"b":25,"k":2,"e":-1.05},{"b":25,"k":2.5,"e":-0.88},{"b":25,"k":3,"e":-0.5},{"b":25,"k":3.5,"e":-0.78},{"b":25,"k":4,"e":-0.84},
{"b":26,"k":0,"e":-0.88},{"b":26,"k":0.5,"e":-0.92},{"b":26,"k":1,"e":-0.9},{"b":26,"k":1.5,"e":-1.06},{"b":26,"k":2,"e":-1.15},{"b":26,"k":2.5,"e":-0.98},{"b":26,"k":3,"e":-0.6},{"b":26,"k":3.5,"e":-0.86},{"b":26,"k":4,"e":-0.9},
{"b":27,"k":0,"e":-0.94},{"b":27,"k":0.5,"e":-0.98},{"b":27,"k":1,"e":-0.95},{"b":27,"k":1.5,"e":-1.15},{"b":27,"k":2,"e":-1.25},{"b":27,"k":2.5,"e":-1.08},{"b":27,"k":3,"e":-0.72},{"b":27,"k":3.5,"e":-0.94},{"b":27,"k":4,"e":-0.95},
{"b":28,"k":0,"e":-1.0},{"b":28,"k":0.5,"e":-1.04},{"b":28,"k":1,"e":-1.0},{"b":28,"k":1.5,"e":-1.25},{"b":28,"k":2,"e":-1.35},{"b":28,"k":2.5,"e":-1.18},{"b":28,"k":3,"e":-0.85},{"b":28,"k":3.5,"e":-1.02},{"b":28,"k":4,"e":-1.0},
{"b":29,"k":0,"e":-1.06},{"b":29,"k":0.5,"e":-1.1},{"b":29,"k":1,"e":-1.05},{"b":29,"k":1.5,"e":-1.35},{"b":29,"k":2,"e":-1.45},{"b":29,"k":2.5,"e":-1.3},{"b":29,"k":3,"e":-0.98},{"b":29,"k":3.5,"e":-1.1},{"b":29,"k":4,"e":-1.06},
{"b":30,"k":0,"e":-1.12},{"b":30,"k":0.5,"e":-1.15},{"b":30,"k":1,"e":-1.12},{"b":30,"k":1.4,"e":-1.45},{"b":30,"k":1.6,"e":-1.55},
{"b":31,"k":0,"e":-1.18},{"b":31,"k":0.5,"e":-1.2},{"b":31,"k":1,"e":-1.2},{"b":31,"k":1.3,"e":-1.55},
{"b":32,"k":0,"e":-1.25},{"b":32,"k":0.5,"e":-1.28},{"b":32,"k":1,"e":-1.3},{"b":32,"k":1.2,"e":-1.55},
{"b":33,"k":0,"e":-1.32},{"b":33,"k":0.5,"e":-1.36},{"b":33,"k":1,"e":-1.42},{"b":33,"k":1.1,"e":-1.55},
{"b":34,"k":2.6,"e":-1.55},{"b":34,"k":3,"e":-1.12},{"b":34,"k":3.5,"e":-1.2},{"b":34,"k":4,"e":-1.15},
{"b":35,"k":2.7,"e":-1.55},{"b":35,"k":3,"e":-1.25},{"b":35,"k":3.5,"e":-1.3},{"b":35,"k":4,"e":-1.25},
{"b":36,"k":0,"e":-1.4},{"b":36,"k":0.5,"e":-1.45},{"b":36,"k":0.8,"e":-1.55},
{"b":37,"k":3.6,"e":-1.55},{"b":37,"k":3.8,"e":-1.4},{"b":37,"k":4,"e":-1.38}
],
"sb":[
{"b":1,"k":0.62,"e":0.62},{"b":1,"k":0.8,"e":0.35},{"b":1,"k":1,"e":0.04},{"b":1,"k":1.3,"e":0.035},{"b":1,"k":1.6,"e":0.02},{"b":1,"k":2,"e":-0.008},{"b":1,"k":2.1,"e":0.06},{"b":1,"k":2.3,"e":0.16},{"b":1,"k":2.6,"e":0.3},{"b":1,"k":3,"e":0.53},{"b":1,"k":3.1,"e":0.62},
{"b":2,"k":0.82,"e":0.62},{"b":2,"k":0.95,"e":0.42},{"b":2,"k":1,"e":0.38},{"b":2,"k":1.2,"e":0.42},{"b":2,"k":1.45,"e":0.46},{"b":2,"k":1.65,"e":0.44},{"b":2,"k":1.8,"e":0.35},{"b":2,"k":1.9,"e":0.28},{"b":2,"k":1.97,"e":0.22},{"b":2,"k":2,"e":0.21},{"b":2,"k":2.03,"e":0.22},{"b":2,"k":2.1,"e":0.3},{"b":2,"k":2.2,"e":0.45},{"b":2,"k":2.3,"e":0.62},
{"b":3,"k":1.8,"e":0.62},{"b":3,"k":1.92,"e":0.4},{"b":3,"k":2,"e":0.26},{"b":3,"k":2.08,"e":0.4},{"b":3,"k":2.2,"e":0.62},
{"b":4,"k":1.85,"e":0.62},{"b":4,"k":1.95,"e":0.44},{"b":4,"k":2,"e":0.36},{"b":4,"k":2.05,"e":0.44},{"b":4,"k":2.15,"e":0.62},
{"b":5,"k":1.9,"e":0.62},{"b":5,"k":2,"e":0.48},{"b":5,"k":2.1,"e":0.62},
{"b":6,"k":1.95,"e":0.62},{"b":6,"k":2,"e":0.55},{"b":6,"k":2.05,"e":0.62},
{"b":7,"k":2.75,"e":0.62},{"b":7,"k":2.9,"e":0.56},{"b":7,"k":3,"e":0.53},{"b":7,"k":3.05,"e":0.57},{"b":7,"k":3.1,"e":0.62},
{"b":8,"k":0,"e":-0.51},{"b":8,"k":0.3,"e":-0.47},{"b":8,"k":0.6,"e":-0.35},{"b":8,"k":0.85,"e":-0.2},{"b":8,"k":1,"e":-0.13},{"b":8,"k":1.2,"e":-0.16},{"b":8,"k":1.5,"e":-0.235},{"b":8,"k":1.75,"e":-0.23},{"b":8,"k":2,"e":-0.21},{"b":8,"k":2.03,"e":-0.3},{"b":8,"k":2.05,"e":-0.33},{"b":8,"k":2.3,"e":-0.3},{"b":8,"k":2.6,"e":-0.18},{"b":8,"k":2.85,"e":-0.04},{"b":8,"k":3,"e":0.0},{"b":8,"k":3.2,"e":-0.12},{"b":8,"k":3.45,"e":-0.4},{"b":8,"k":3.65,"e":-0.54},{"b":8,"k":4,"e":-0.52},
{"b":9,"k":0,"e":-0.53},{"b":9,"k":0.4,"e":-0.45},{"b":9,"k":0.7,"e":-0.3},{"b":9,"k":1,"e":-0.185},{"b":9,"k":1.3,"e":-0.22},{"b":9,"k":1.55,"e":-0.25},{"b":9,"k":1.8,"e":-0.24},{"b":9,"k":2,"e":-0.22},{"b":9,"k":2.02,"e":-0.45},{"b":9,"k":2.05,"e":-0.62},
{"b":10,"k":0.3,"e":-0.62},{"b":10,"k":0.6,"e":-0.45},{"b":10,"k":0.85,"e":-0.28},{"b":10,"k":1,"e":-0.225},{"b":10,"k":1.2,"e":-0.3},{"b":10,"k":1.4,"e":-0.48},{"b":10,"k":1.55,"e":-0.62},
{"b":11,"k":0.55,"e":-0.62},{"b":11,"k":0.8,"e":-0.4},{"b":11,"k":1,"e":-0.31},{"b":11,"k":1.2,"e":-0.42},{"b":11,"k":1.35,"e":-0.62},
{"b":12,"k":0.8,"e":-0.62},{"b":12,"k":1,"e":-0.48},{"b":12,"k":1.2,"e":-0.55},{"b":12,"k":1.3,"e":-0.62},
{"b":13,"k":2.05,"e":-0.62},{"b":13,"k":2.1,"e":-0.55},{"b":13,"k":2.4,"e":-0.48},{"b":13,"k":2.7,"e":-0.32},{"b":13,"k":3,"e":-0.17},{"b":13,"k":3.2,"e":-0.3},{"b":13,"k":3.4,"e":-0.52},{"b":13,"k":3.55,"e":-0.62},
{"b":14,"k":2.1,"e":-0.62},{"b":14,"k":2.5,"e":-0.52},{"b":14,"k":2.8,"e":-0.36},{"b":14,"k":3,"e":-0.29},{"b":14,"k":3.2,"e":-0.42},{"b":14,"k":3.35,"e":-0.62},
{"b":15,"k":2.3,"e":-0.62},{"b":15,"k":2.6,"e":-0.48},{"b":15,"k":2.8,"e":-0.37},{"b":15,"k":3,"e":-0.37},{"b":15,"k":3.1,"e":-0.45},{"b":15,"k":3.25,"e":-0.62},
{"b":16,"k":2.6,"e":-0.62},{"b":16,"k":2.8,"e":-0.5},{"b":16,"k":3,"e":-0.42},{"b":16,"k":3.2,"e":-0.42},{"b":16,"k":3.5,"e":-0.55},{"b":16,"k":3.7,"e":-0.6},{"b":16,"k":3.9,"e":-0.57},{"b":16,"k":4,"e":-0.54},
{"b":17,"k":2.8,"e":-0.62},{"b":17,"k":3,"e":-0.47},{"b":17,"k":3.15,"e":-0.62},
{"b":18,"k":0,"e":-0.55},{"b":18,"k":0.3,"e":-0.62},
{"b":19,"k":3.85,"e":-0.6},{"b":19,"k":4,"e":-0.56}
],
"sc":[
{"b":1,"k":0.65,"e":0.62},{"b":1,"k":0.82,"e":0.35},{"b":1,"k":1,"e":0.048},{"b":1,"k":1.3,"e":0.04},{"b":1,"k":1.6,"e":0.03},{"b":1,"k":2,"e":0.0},{"b":1,"k":2.1,"e":0.08},{"b":1,"k":2.3,"e":0.2},{"b":1,"k":2.6,"e":0.33},{"b":1,"k":3,"e":0.52},{"b":1,"k":3.1,"e":0.62},
{"b":2,"k":0.76,"e":0.62},{"b":2,"k":0.93,"e":0.42},{"b":2,"k":1,"e":0.37},{"b":2,"k":1.2,"e":0.4},{"b":2,"k":1.5,"e":0.43},{"b":2,"k":1.7,"e":0.42},{"b":2,"k":1.85,"e":0.33},{"b":2,"k":1.95,"e":0.22},{"b":2,"k":2,"e":0.183},{"b":2,"k":2.05,"e":0.22},{"b":2,"k":2.15,"e":0.35},{"b":2,"k":2.3,"e":0.62},
{"b":3,"k":1.8,"e":0.62},{"b":3,"k":1.92,"e":0.36},{"b":3,"k":2,"e":0.24},{"b":3,"k":2.08,"e":0.36},{"b":3,"k":2.2,"e":0.62},
{"b":4,"k":1.83,"e":0.62},{"b":4,"k":1.94,"e":0.42},{"b":4,"k":2,"e":0.32},{"b":4,"k":2.06,"e":0.42},{"b":4,"k":2.17,"e":0.62},
{"b":5,"k":1.88,"e":0.62},{"b":5,"k":2,"e":0.42},{"b":5,"k":2.12,"e":0.62},
{"b":6,"k":1.93,"e":0.62},{"b":6,"k":2,"e":0.5},{"b":6,"k":2.07,"e":0.62},
{"b":7,"k":2.75,"e":0.62},{"b":7,"k":2.9,"e":0.56},{"b":7,"k":3,"e":0.52},{"b":7,"k":3.05,"e":0.56},{"b":7,"k":3.1,"e":0.62},
{"b":8,"k":0,"e":-0.536},{"b":8,"k":0.3,"e":-0.47},{"b":8,"k":0.6,"e":-0.35},{"b":8,"k":0.85,"e":-0.22},{"b":8,"k":1,"e":-0.185},{"b":8,"k":1.3,"e":-0.21},{"b":8,"k":1.6,"e":-0.17},{"b":8,"k":1.85,"e":-0.12},{"b":8,"k":2,"e":-0.11},{"b":8,"k":2.03,"e":-0.2},{"b":8,"k":2.06,"e":-0.24},{"b":8,"k":2.3,"e":-0.21},{"b":8,"k":2.6,"e":-0.12},{"b":8,"k":2.85,"e":-0.03},{"b":8,"k":3,"e":-0.016},{"b":8,"k":3.2,"e":-0.1},{"b":8,"k":3.45,"e":-0.35},{"b":8,"k":3.65,"e":-0.5},{"b":8,"k":4,"e":-0.536},
{"b":9,"k":0,"e":-0.56},{"b":9,"k":0.4,"e":-0.45},{"b":9,"k":0.75,"e":-0.3},{"b":9,"k":1,"e":-0.25},{"b":9,"k":1.3,"e":-0.21},{"b":9,"k":1.6,"e":-0.22},{"b":9,"k":2,"e":-0.245},{"b":9,"k":2.02,"e":-0.4},{"b":9,"k":2.04,"e":-0.62},
{"b":10,"k":0.35,"e":-0.62},{"b":10,"k":0.65,"e":-0.45},{"b":10,"k":0.9,"e":-0.3},{"b":10,"k":1,"e":-0.28},{"b":10,"k":1.2,"e":-0.36},{"b":10,"k":1.4,"e":-0.55},{"b":10,"k":1.5,"e":-0.62},
{"b":11,"k":0.6,"e":-0.62},{"b":11,"k":0.85,"e":-0.42},{"b":11,"k":1,"e":-0.36},{"b":11,"k":1.15,"e":-0.45},{"b":11,"k":1.35,"e":-0.62},
{"b":12,"k":0.65,"e":-0.62},{"b":12,"k":1,"e":-0.545},{"b":12,"k":1.3,"e":-0.53},{"b":12,"k":1.6,"e":-0.56},{"b":12,"k":2,"e":-0.54},{"b":12,"k":2.3,"e":-0.55},{"b":12,"k":2.6,"e":-0.57},{"b":12,"k":2.8,"e":-0.62},
{"b":13,"k":2.05,"e":-0.62},{"b":13,"k":2.1,"e":-0.45},{"b":13,"k":2.4,"e":-0.38},{"b":13,"k":2.7,"e":-0.25},{"b":13,"k":3,"e":-0.16},{"b":13,"k":3.2,"e":-0.28},{"b":13,"k":3.4,"e":-0.5},{"b":13,"k":3.5,"e":-0.62},
{"b":14,"k":2.1,"e":-0.62},{"b":14,"k":2.5,"e":-0.47},{"b":14,"k":2.8,"e":-0.32},{"b":14,"k":2.95,"e":-0.27},{"b":14,"k":3.1,"e":-0.34},{"b":14,"k":3.3,"e":-0.62},
{"b":15,"k":2.3,"e":-0.62},{"b":15,"k":2.6,"e":-0.5},{"b":15,"k":2.85,"e":-0.4},{"b":15,"k":3,"e":-0.4},{"b":15,"k":3.1,"e":-0.45},{"b":15,"k":3.25,"e":-0.62},
{"b":16,"k":2.5,"e":-0.62},{"b":16,"k":2.8,"e":-0.49},{"b":16,"k":3,"e":-0.46},{"b":16,"k":3.2,"e":-0.47},{"b":16,"k":3.5,"e":-0.56},{"b":16,"k":3.7,"e":-0.62},
{"b":17,"k":3.85,"e":-0.62},{"b":17,"k":4,"e":-0.59}
],
"dsq":[{"t":4,"g":112},{"t":6,"g":68},{"t":8,"g":15},{"t":10,"g":-5},{"t":12,"g":-43},{"t":16,"g":-51}],
"dcv":[{"t":4,"g":113},{"t":5,"g":88},{"t":6,"g":66},{"t":7,"g":43},{"t":8,"g":22},{"t":9,"g":6},{"t":10,"g":-7},{"t":11,"g":-17},{"t":12,"g":-26},{"t":13,"g":-33},{"t":14,"g":-39},{"t":15,"g":-44},{"t":16,"g":-48}],
"ebar":[{"s":"Strain-free","g":-6},{"s":"2% tensile-strained","g":20.5}]
},
"vconcat":[
{"title":{"text":"a","orient":"left","anchor":"end","angle":0,"align":"right","baseline":"top","fontSize":26,"offset":-8,"dy":22},
 "spacing":9.6,"bounds":"flush",
 "hconcat":[
  {"title":{"text":"4 u.c.","fontSize":19,"offset":-3,"frame":"group"},"width":141,"height":355,
   "layer":[
    {"data":{"name":"a4"},"mark":{"type":"line","color":"#2e6a48","strokeWidth":1.2,"interpolate":"monotone","clip":true},
     "encoding":{"x":{"field":"k","type":"quantitative","scale":{"domain":[0,4],"nice":false},"axis":{"values":[0,1,2,3,4],"tickCount":5,"labelExpr":"['X','M`','Γ','M','X'][datum.value]","ticks":false,"labelPadding":8,"labelFontSize":19,"labelOffset":{"condition":[{"test":"datum.value==0","value":3},{"test":"datum.value==4","value":-3}],"value":0},"labelFontWeight":{"condition":{"test":"datum.value==2","value":"normal"},"value":"bold"},"labelFont":{"condition":{"test":"datum.value==2","value":"Liberation Serif"},"value":"Liberation Sans"},"labelFlush":false,"labelOverlap":false,"title":null}},
      "y":{"field":"e","type":"quantitative","scale":{"domain":[-1.5,1.5],"nice":false},"axis":{"values":[-1.5,-1.25,-1,-0.75,-0.5,-0.25,0,0.25,0.5,0.75,1,1.25,1.5],"tickCount":13,"labelExpr":"(round(datum.value*4)%2==0)?replace(format(datum.value,'.1f'),'−','-'):''","tickSize":-5,"labelPadding":9,"labelFontSize":19,"labelFontWeight":"bold","title":"E-EF (eV)","titleFontSize":21,"titleFontWeight":"bold","titlePadding":4}},
      "detail":{"field":"b"}}},
    {"data":{"values":[{"k":1},{"k":2},{"k":3}]},"mark":{"type":"rule","color":"#333","strokeDash":[3,3],"strokeWidth":1.3},"encoding":{"x":{"field":"k","type":"quantitative"}}},
    {"data":{"values":[{"e":0}]},"mark":{"type":"rule","color":"#333","strokeDash":[3,3],"strokeWidth":1.3},"encoding":{"y":{"field":"e","type":"quantitative","axis":{"orient":"right","values":[-1.5,-1.25,-1,-0.75,-0.5,-0.25,0,0.25,0.5,0.75,1,1.25,1.5],"tickCount":13,"labels":false,"tickSize":-5,"title":null}}}}
   ],"resolve":{"axis":{"y":"independent"}}},
  {"title":{"text":"6 u.c.","fontSize":19,"offset":7,"frame":"group"},"width":141,"height":355,
   "layer":[
    {"data":{"name":"a6"},"mark":{"type":"line","color":"#c2c64a","strokeWidth":1.2,"interpolate":"monotone","clip":true},
     "encoding":{"x":{"field":"k","type":"quantitative","scale":{"domain":[0,4],"nice":false},"axis":{"values":[0,1,2,3,4],"tickCount":5,"labelExpr":"['X','M`','Γ','M','X'][datum.value]","ticks":false,"labelPadding":8,"labelFontSize":19,"labelOffset":{"condition":[{"test":"datum.value==0","value":3},{"test":"datum.value==4","value":-3}],"value":0},"labelFontWeight":{"condition":{"test":"datum.value==2","value":"normal"},"value":"bold"},"labelFont":{"condition":{"test":"datum.value==2","value":"Liberation Serif"},"value":"Liberation Sans"},"labelFlush":false,"labelOverlap":false,"title":null}},
      "y":{"field":"e","type":"quantitative","scale":{"domain":[-1.5,1.5],"nice":false},"axis":{"values":[-1.5,-1.25,-1,-0.75,-0.5,-0.25,0,0.25,0.5,0.75,1,1.25,1.5],"tickCount":13,"labels":false,"tickSize":-5,"title":null}},
      "detail":{"field":"b"}}},
    {"data":{"values":[{"k":1},{"k":2},{"k":3}]},"mark":{"type":"rule","color":"#333","strokeDash":[3,3],"strokeWidth":1.3},"encoding":{"x":{"field":"k","type":"quantitative"}}},
    {"data":{"values":[{"e":0}]},"mark":{"type":"rule","color":"#333","strokeDash":[3,3],"strokeWidth":1.3},"encoding":{"y":{"field":"e","type":"quantitative","axis":{"orient":"right","values":[-1.5,-1.25,-1,-0.75,-0.5,-0.25,0,0.25,0.5,0.75,1,1.25,1.5],"tickCount":13,"labels":false,"tickSize":-5,"title":null}}}}
   ],"resolve":{"axis":{"y":"independent"}}},
  {"title":{"text":"8 u.c.","fontSize":19,"offset":7,"frame":"group"},"width":141,"height":355,
   "layer":[
    {"data":{"name":"a8"},"mark":{"type":"line","color":"#f2cc44","strokeWidth":1.2,"interpolate":"monotone","clip":true},
     "encoding":{"x":{"field":"k","type":"quantitative","scale":{"domain":[0,4],"nice":false},"axis":{"values":[0,1,2,3,4],"tickCount":5,"labelExpr":"['X','M`','Γ','M','X'][datum.value]","ticks":false,"labelPadding":8,"labelFontSize":19,"labelOffset":{"condition":[{"test":"datum.value==0","value":3},{"test":"datum.value==4","value":-3}],"value":0},"labelFontWeight":{"condition":{"test":"datum.value==2","value":"normal"},"value":"bold"},"labelFont":{"condition":{"test":"datum.value==2","value":"Liberation Serif"},"value":"Liberation Sans"},"labelFlush":false,"labelOverlap":false,"title":null}},
      "y":{"field":"e","type":"quantitative","scale":{"domain":[-1.5,1.5],"nice":false},"axis":{"values":[-1.5,-1.25,-1,-0.75,-0.5,-0.25,0,0.25,0.5,0.75,1,1.25,1.5],"tickCount":13,"labels":false,"tickSize":-5,"title":null}},
      "detail":{"field":"b"}}},
    {"data":{"values":[{"k":1},{"k":2},{"k":3}]},"mark":{"type":"rule","color":"#333","strokeDash":[3,3],"strokeWidth":1.3},"encoding":{"x":{"field":"k","type":"quantitative"}}},
    {"data":{"values":[{"e":0}]},"mark":{"type":"rule","color":"#333","strokeDash":[3,3],"strokeWidth":1.3},"encoding":{"y":{"field":"e","type":"quantitative","axis":{"orient":"right","values":[-1.5,-1.25,-1,-0.75,-0.5,-0.25,0,0.25,0.5,0.75,1,1.25,1.5],"tickCount":13,"labels":false,"tickSize":-5,"title":null}}}}
   ],"resolve":{"axis":{"y":"independent"}}},
  {"title":{"text":"10 u.c.","fontSize":19,"offset":7,"frame":"group"},"width":141,"height":355,
   "layer":[
    {"data":{"name":"a10"},"mark":{"type":"line","color":"#f0b32c","strokeWidth":1.2,"interpolate":"monotone","clip":true},
     "encoding":{"x":{"field":"k","type":"quantitative","scale":{"domain":[0,4],"nice":false},"axis":{"values":[0,1,2,3,4],"tickCount":5,"labelExpr":"['X','M`','Γ','M','X'][datum.value]","ticks":false,"labelPadding":8,"labelFontSize":19,"labelOffset":{"condition":[{"test":"datum.value==0","value":3},{"test":"datum.value==4","value":-3}],"value":0},"labelFontWeight":{"condition":{"test":"datum.value==2","value":"normal"},"value":"bold"},"labelFont":{"condition":{"test":"datum.value==2","value":"Liberation Serif"},"value":"Liberation Sans"},"labelFlush":false,"labelOverlap":false,"title":null}},
      "y":{"field":"e","type":"quantitative","scale":{"domain":[-1.5,1.5],"nice":false},"axis":{"values":[-1.5,-1.25,-1,-0.75,-0.5,-0.25,0,0.25,0.5,0.75,1,1.25,1.5],"tickCount":13,"labels":false,"tickSize":-5,"title":null}},
      "detail":{"field":"b"}}},
    {"data":{"values":[{"k":1},{"k":2},{"k":3}]},"mark":{"type":"rule","color":"#333","strokeDash":[3,3],"strokeWidth":1.3},"encoding":{"x":{"field":"k","type":"quantitative"}}},
    {"data":{"values":[{"e":0}]},"mark":{"type":"rule","color":"#333","strokeDash":[3,3],"strokeWidth":1.3},"encoding":{"y":{"field":"e","type":"quantitative","axis":{"orient":"right","values":[-1.5,-1.25,-1,-0.75,-0.5,-0.25,0,0.25,0.5,0.75,1,1.25,1.5],"tickCount":13,"labels":false,"tickSize":-5,"title":null}}}}
   ],"resolve":{"axis":{"y":"independent"}}},
  {"title":{"text":"12 u.c.","fontSize":19,"offset":7,"frame":"group"},"width":141,"height":355,
   "layer":[
    {"data":{"name":"a12"},"mark":{"type":"line","color":"#f07832","strokeWidth":1.2,"interpolate":"monotone","clip":true},
     "encoding":{"x":{"field":"k","type":"quantitative","scale":{"domain":[0,4],"nice":false},"axis":{"values":[0,1,2,3,4],"tickCount":5,"labelExpr":"['X','M`','Γ','M','X'][datum.value]","ticks":false,"labelPadding":8,"labelFontSize":19,"labelOffset":{"condition":[{"test":"datum.value==0","value":3},{"test":"datum.value==4","value":-3}],"value":0},"labelFontWeight":{"condition":{"test":"datum.value==2","value":"normal"},"value":"bold"},"labelFont":{"condition":{"test":"datum.value==2","value":"Liberation Serif"},"value":"Liberation Sans"},"labelFlush":false,"labelOverlap":false,"title":null}},
      "y":{"field":"e","type":"quantitative","scale":{"domain":[-1.5,1.5],"nice":false},"axis":{"values":[-1.5,-1.25,-1,-0.75,-0.5,-0.25,0,0.25,0.5,0.75,1,1.25,1.5],"tickCount":13,"labels":false,"tickSize":-5,"title":null}},
      "detail":{"field":"b"}}},
    {"data":{"values":[{"k":1},{"k":2},{"k":3}]},"mark":{"type":"rule","color":"#333","strokeDash":[3,3],"strokeWidth":1.3},"encoding":{"x":{"field":"k","type":"quantitative"}}},
    {"data":{"values":[{"e":0}]},"mark":{"type":"rule","color":"#333","strokeDash":[3,3],"strokeWidth":1.3},"encoding":{"y":{"field":"e","type":"quantitative","axis":{"orient":"right","values":[-1.5,-1.25,-1,-0.75,-0.5,-0.25,0,0.25,0.5,0.75,1,1.25,1.5],"tickCount":13,"labels":false,"tickSize":-5,"title":null}}}}
   ],"resolve":{"axis":{"y":"independent"}}},
  {"title":{"text":"16 u.c.","fontSize":19,"offset":7,"frame":"group"},"width":141,"height":355,
   "layer":[
    {"data":{"name":"a16"},"mark":{"type":"line","color":"#e8163c","strokeWidth":1.2,"interpolate":"monotone","clip":true},
     "encoding":{"x":{"field":"k","type":"quantitative","scale":{"domain":[0,4],"nice":false},"axis":{"values":[0,1,2,3,4],"tickCount":5,"labelExpr":"['X','M`','Γ','M','X'][datum.value]","ticks":false,"labelPadding":8,"labelFontSize":19,"labelOffset":{"condition":[{"test":"datum.value==0","value":3},{"test":"datum.value==4","value":-3}],"value":0},"labelFontWeight":{"condition":{"test":"datum.value==2","value":"normal"},"value":"bold"},"labelFont":{"condition":{"test":"datum.value==2","value":"Liberation Serif"},"value":"Liberation Sans"},"labelFlush":false,"labelOverlap":false,"title":null}},
      "y":{"field":"e","type":"quantitative","scale":{"domain":[-1.5,1.5],"nice":false},"axis":{"values":[-1.5,-1.25,-1,-0.75,-0.5,-0.25,0,0.25,0.5,0.75,1,1.25,1.5],"tickCount":13,"labels":false,"tickSize":-5,"title":null}},
      "detail":{"field":"b"}}},
    {"data":{"values":[{"k":1},{"k":2},{"k":3}]},"mark":{"type":"rule","color":"#333","strokeDash":[3,3],"strokeWidth":1.3},"encoding":{"x":{"field":"k","type":"quantitative"}}},
    {"data":{"values":[{"e":0}]},"mark":{"type":"rule","color":"#333","strokeDash":[3,3],"strokeWidth":1.3},"encoding":{"y":{"field":"e","type":"quantitative","axis":{"orient":"right","values":[-1.5,-1.25,-1,-0.75,-0.5,-0.25,0,0.25,0.5,0.75,1,1.25,1.5],"tickCount":13,"labels":false,"tickSize":-5,"title":null}}}}
   ],"resolve":{"axis":{"y":"independent"}}}
 ]},
{"spacing":4,
 "hconcat":[
  {"title":{"text":"b","orient":"left","anchor":"end","angle":0,"align":"right","baseline":"top","fontSize":26,"offset":-8,"dy":20},
   "hconcat":[
    {"title":{"text":"Strain-free","fontSize":19,"offset":5,"frame":"group","color":"#d42a2a"},"width":259,"height":354,
     "layer":[
      {"data":{"name":"sb"},"mark":{"type":"line","color":"#d42424","strokeWidth":1.1,"interpolate":"monotone","clip":true},
       "encoding":{"x":{"field":"k","type":"quantitative","scale":{"domain":[0,4],"nice":false},"axis":{"values":[0,1,2,3,4],"tickCount":5,"labelExpr":"['X','M`','Γ','M','X'][datum.value]","ticks":false,"labelPadding":15,"labelFontSize":20,"labelFontWeight":{"condition":{"test":"datum.value==2","value":"normal"},"value":"bold"},"labelFont":{"condition":{"test":"datum.value==2","value":"Liberation Serif"},"value":"Liberation Sans"},"labelFlush":false,"labelOverlap":false,"title":null}},
        "y":{"field":"e","type":"quantitative","scale":{"domain":[-0.6,0.6],"nice":false},"axis":{"values":[-0.5,-0.25,0,0.25,0.5],"tickCount":5,"labelExpr":"(round(datum.value*4)%2==0)?replace(format(datum.value,'.1f'),'−','-'):''","tickSize":-5,"labelPadding":9,"labelFontSize":19,"labelFontWeight":"bold","title":"E-EF (eV)","titleFontSize":21,"titleFontWeight":"bold","titlePadding":4}},
        "detail":{"field":"b"}}},
      {"data":{"values":[{"k":1},{"k":2},{"k":3}]},"mark":{"type":"rule","color":"#333","strokeDash":[3,3],"strokeWidth":1.3},"encoding":{"x":{"field":"k","type":"quantitative"}}},
      {"data":{"values":[{"e":0}]},"mark":{"type":"rule","color":"#333","strokeDash":[3,3],"strokeWidth":1.3},"encoding":{"y":{"field":"e","type":"quantitative","axis":{"orient":"right","values":[-0.5,-0.25,0,0.25,0.5],"tickCount":5,"labels":false,"tickSize":-5,"title":null}}}}
     ],"resolve":{"axis":{"y":"independent"}}}
   ]},
  {"title":{"text":"c","orient":"left","anchor":"end","angle":0,"align":"right","baseline":"top","fontSize":26,"offset":1,"dy":20},
   "hconcat":[
    {"title":{"text":"2% tensile-strained","fontSize":19,"offset":5,"frame":"group","color":"#1f2fa8"},"width":259,"height":354,
     "layer":[
      {"data":{"name":"sc"},"mark":{"type":"line","color":"#2a34c8","strokeWidth":1.1,"interpolate":"monotone","clip":true},
       "encoding":{"x":{"field":"k","type":"quantitative","scale":{"domain":[0,4],"nice":false},"axis":{"values":[0,1,2,3,4],"tickCount":5,"labelExpr":"['X','M`','Γ','M','X'][datum.value]","ticks":false,"labelPadding":15,"labelFontSize":20,"labelFontWeight":{"condition":{"test":"datum.value==2","value":"normal"},"value":"bold"},"labelFont":{"condition":{"test":"datum.value==2","value":"Liberation Serif"},"value":"Liberation Sans"},"labelFlush":false,"labelOverlap":false,"title":null}},
        "y":{"field":"e","type":"quantitative","scale":{"domain":[-0.6,0.6],"nice":false},"axis":{"values":[-0.45,-0.3,-0.15,0,0.15,0.3,0.45],"tickCount":7,"labels":false,"tickSize":-5,"title":null}},
        "detail":{"field":"b"}}},
      {"data":{"values":[{"k":1},{"k":2},{"k":3}]},"mark":{"type":"rule","color":"#333","strokeDash":[3,3],"strokeWidth":1.3},"encoding":{"x":{"field":"k","type":"quantitative"}}},
      {"data":{"values":[{"e":0}]},"mark":{"type":"rule","color":"#333","strokeDash":[3,3],"strokeWidth":1.3},"encoding":{"y":{"field":"e","type":"quantitative","axis":{"orient":"right","values":[-0.45,-0.3,-0.15,0,0.15,0.3,0.45],"tickCount":7,"labels":false,"tickSize":-5,"title":null}}}}
     ],"resolve":{"axis":{"y":"independent"}}}
   ]},
  {"title":{"text":" ","fontSize":19,"offset":5},"spacing":23,"resolve":{"scale":{"color":"independent"}},
   "vconcat":[
    {"title":{"text":"d","orient":"left","anchor":"end","angle":0,"align":"right","baseline":"top","fontSize":26,"offset":-6,"frame":"group"},
     "width":282,"height":141,
     "layer":[
      {"data":{"values":[{"g":0}]},"mark":{"type":"rule","color":"#333","strokeDash":[5,4],"strokeWidth":1.3},
       "encoding":{"y":{"field":"g","type":"quantitative","scale":{"domain":[-100,148],"nice":false,"zero":false},"axis":{"orient":"right","values":[-90,-60,-30,0,30,60,90,120],"tickCount":8,"labelExpr":"(datum.value%60==0)?replace(datum.label,'−','-'):''","tickSize":-5,"labelPadding":9,"labelFontSize":20,"title":"Bandgap (meV)","titleFontSize":20,"titleFontWeight":"normal","titleAngle":270,"titleBaseline":"top","titlePadding":4}}}},
      {"data":{"name":"dcv"},"mark":{"type":"line","interpolate":"monotone","strokeWidth":4,"stroke":{"gradient":"linear","x1":0,"y1":0,"x2":1,"y2":0,"stops":[{"offset":0,"color":"#1f5f33"},{"offset":0.1,"color":"#a0aa2a"},{"offset":0.22,"color":"#dccf3c"},{"offset":0.36,"color":"#f6d24a"},{"offset":0.52,"color":"#f5ac36"},{"offset":0.72,"color":"#f5702a"},{"offset":1,"color":"#f21e1e"}]}},
       "encoding":{"x":{"field":"t","type":"quantitative","scale":{"domain":[2.9,16.9],"nice":false,"zero":false},"axis":{"values":[4,6,8,10,12,14,16],"tickCount":7,"tickSize":-5,"labelPadding":9,"labelFontSize":20,"title":"Layer thickness (u. c.)","titleFontSize":20,"titleFontWeight":"normal","titlePadding":6}},"y":{"field":"g","type":"quantitative"}}},
      {"data":{"name":"dsq"},"mark":{"type":"point","shape":"square","filled":true,"size":300,"opacity":1},
       "encoding":{"x":{"field":"t","type":"quantitative"},"y":{"field":"g","type":"quantitative"},"color":{"field":"t","type":"ordinal","scale":{"domain":[4,6,8,10,12,16],"range":["#1e5a34","#b9b92c","#f0cf45","#f4b535","#f28436","#f0143c"]},"legend":null}}}
     ]},
    {"title":{"text":"e","orient":"left","anchor":"end","angle":0,"align":"right","baseline":"top","fontSize":26,"offset":-6,"frame":"group"},
     "width":282,"height":139,
     "layer":[
      {"data":{"name":"ebar"},"mark":{"type":"bar"},
       "encoding":{"x":{"field":"s","type":"nominal","sort":null,"scale":{"paddingInner":0.71,"paddingOuter":0.355},"axis":{"tickSize":-5,"labelPadding":17,"labelFontSize":20,"labelFontWeight":"bold","labelAngle":0,"labelLimit":400,"labelOffset":{"condition":{"test":"datum.value=='Strain-free'","value":-15},"value":0},"labelColor":{"condition":{"test":"datum.value=='Strain-free'","value":"#d0202a"},"value":"#1a237e"},"title":null}},
        "y":{"field":"g","type":"quantitative","scale":{"domain":[-35,35],"nice":false},"axis":{"orient":"right","values":[-30,-20,-10,0,10,20,30],"tickCount":7,"labelExpr":"(datum.value%20==0)?replace(datum.label,'−','-'):''","tickSize":-5,"labelPadding":9,"labelFontSize":20,"title":"Bandgap (meV)","titleFontSize":20,"titleFontWeight":"normal","titleAngle":270,"titleBaseline":"top","titlePadding":4}},
        "color":{"field":"s","type":"nominal","scale":{"domain":["Strain-free","2% tensile-strained"],"range":["#cc0000","#00137f"]},"legend":null}}},
      {"data":{"values":[{"g":0}]},"mark":{"type":"rule","color":"#333","strokeDash":[5,4],"strokeWidth":1.3},"encoding":{"y":{"field":"g","type":"quantitative"}}}
     ]}
   ]}
 ]}
],
"spacing":35
}
